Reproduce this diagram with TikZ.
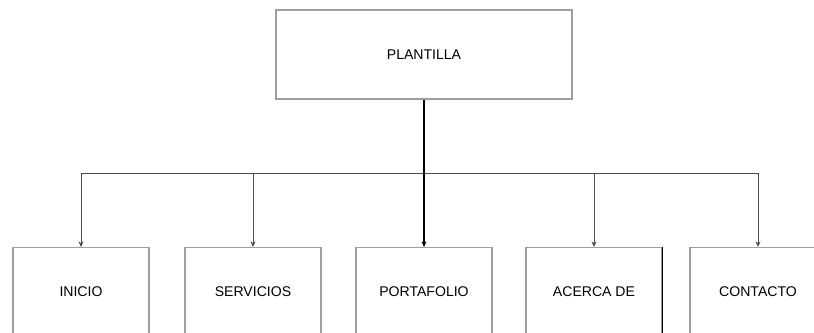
\documentclass[tikz,border=0pt]{standalone}
\usepackage{fontspec}
\setmainfont{Liberation Sans}
\usetikzlibrary{arrows.meta, positioning}

\begin{document}
\begin{tikzpicture}[x=0.025cm, y=0.025cm, >={Stealth[length=4pt, width=3.5pt]},
  caja/.style={draw=gray!75, line width=0.9pt, fill=white, minimum width=296*0.025cm,
    minimum height=89*0.025cm, font=\fontsize{10}{12}\selectfont, inner sep=0pt},
  hoja/.style={caja, minimum width=136*0.025cm, anchor=north},
  conector/.style={draw=black!70, line width=0.7pt}]
  % picture frame (boxes at the bottom run past the edge)
  \useasboundingbox (0,0) rectangle (814,333);
  \clip (0,0) rectangle (814,333);

  % top node
  \node[caja] (plantilla) at (424,278.5) {PLANTILLA};

  % second level
  \node[hoja] (inicio) at (81,86) {INICIO};
  \node[hoja] (servicios) at (253,86) {SERVICIOS};
  \node[hoja] (portafolio) at (424,86) {PORTAFOLIO};
  \node[hoja] (acerca) at (594,86) {ACERCA DE};
  \node[hoja] (contacto) at (758,86) {CONTACTO};
  % dark right side of ACERCA DE
  \draw[line width=1.2pt] (acerca.north east) -- (acerca.south east);

  % bus line
  \coordinate (bus) at (424,160);
  \draw[conector] (inicio.north |- bus) -- (contacto.north |- bus);

  % connectors
  \draw[->, line width=1.3pt] (plantilla.south) -- (portafolio.north);
  \foreach \n in {inicio, servicios, acerca, contacto}
    \draw[conector, ->] (\n.north |- bus) -- (\n.north);
\end{tikzpicture}
\end{document}
